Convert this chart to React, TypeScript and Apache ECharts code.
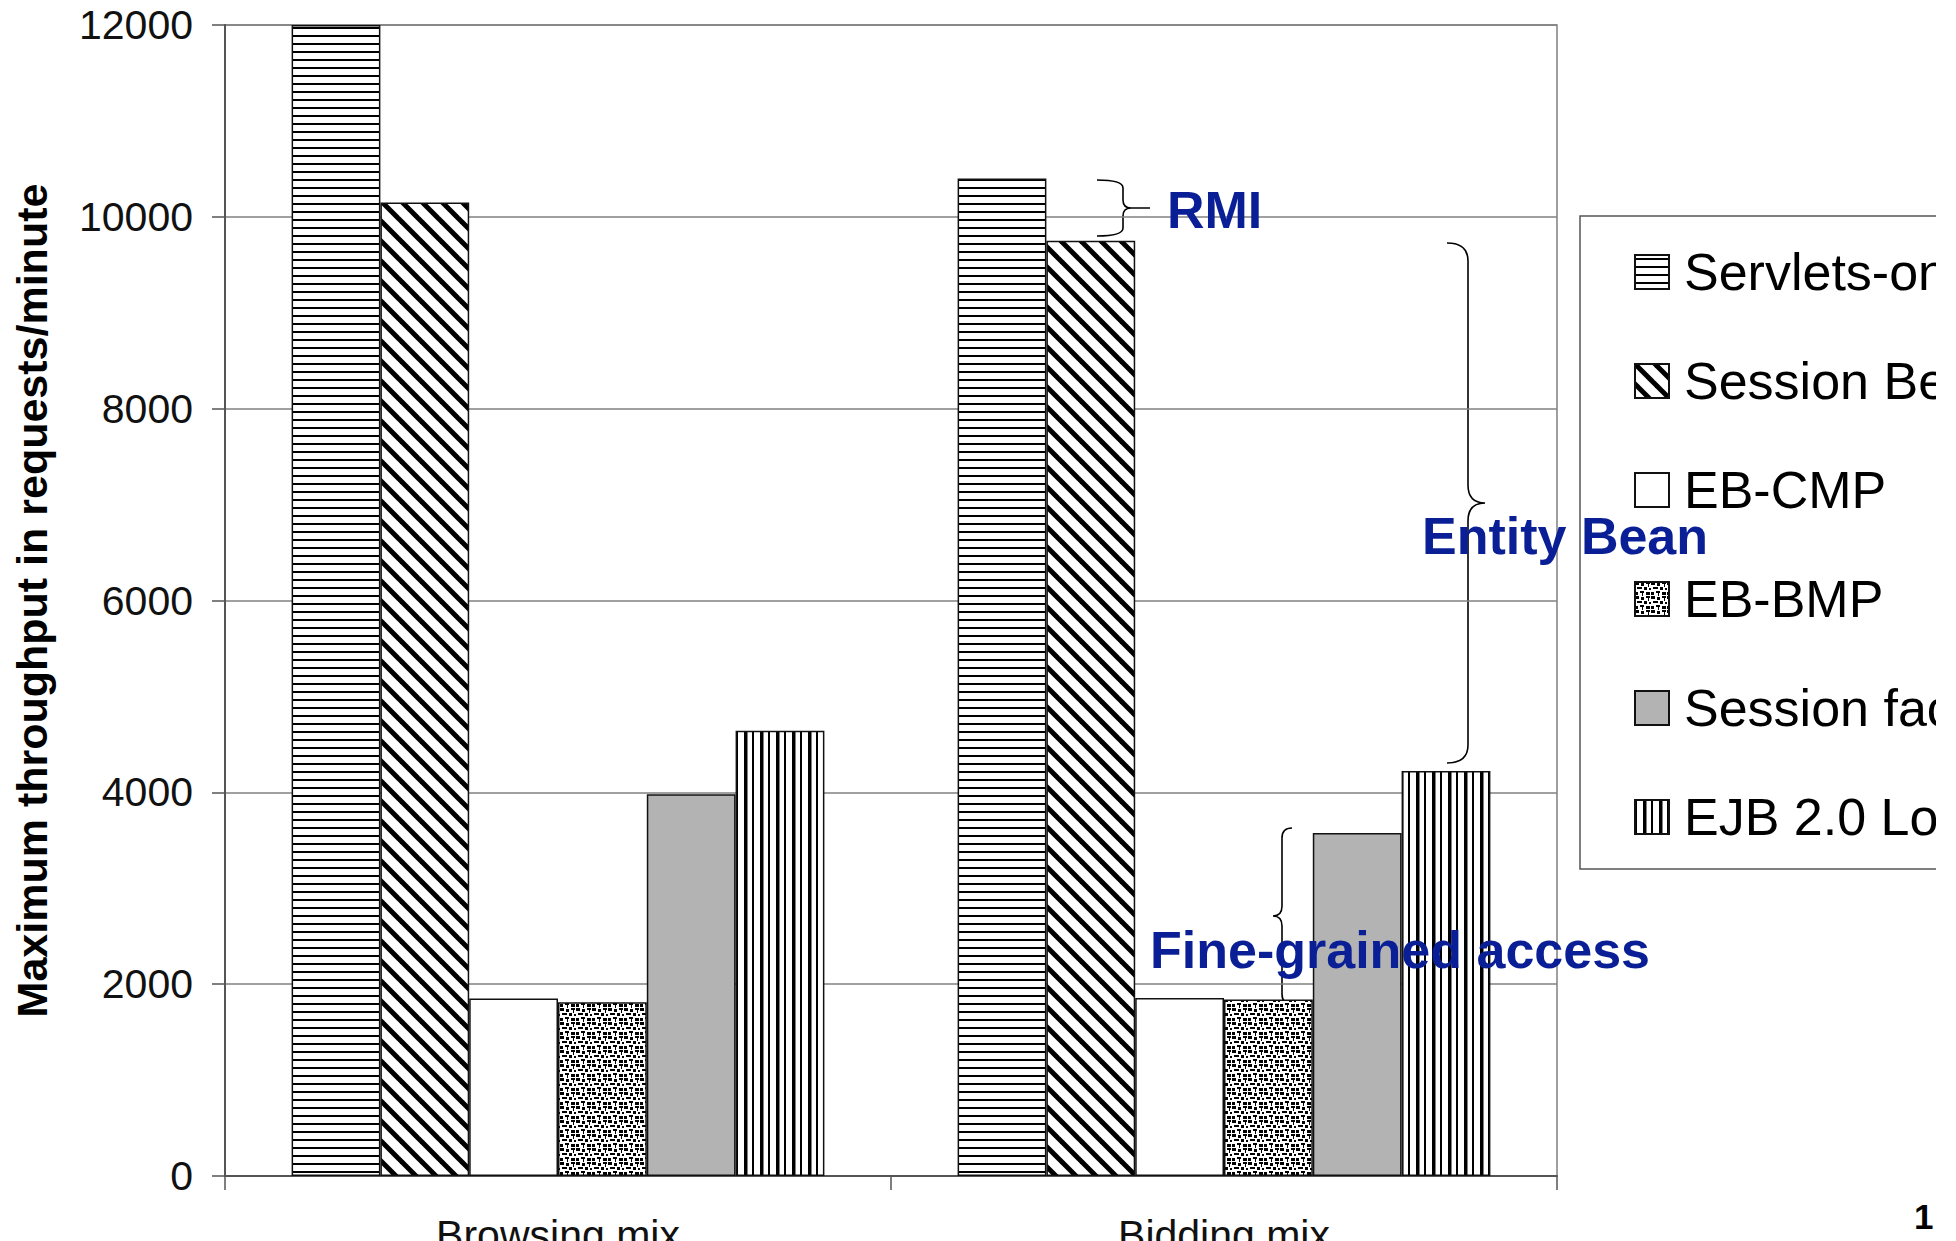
import React, { useEffect, useRef } from 'react';
import * as echarts from 'echarts';

const categories = ['Browsing mix', 'Bidding mix'];
const seriesNames = ['Servlets-only', 'Session Beans', 'EB-CMP', 'EB-BMP', 'Session facade', 'EJB 2.0 Local'];
const servletsOnly = [12000, 10400];
const sessionBeans = [10150, 9750];
const ebCmp = [1850, 1855];
const ebBmp = [1812, 1840];
const sessionFacade = [3980, 3575];
const ejbLocal = [4643, 4223];
const yMin = 0;
const yMax = 12000;
const yStep = 2000;
const yTitle = 'Maximum throughput in requests/minute';
const noteRmi = 'RMI';
const noteEntity = 'Entity Bean';
const noteFine = 'Fine-grained access';
const pageNumber = '1';

const FONT = '"Liberation Sans", Arial, Helvetica, sans-serif';
const BLUE = '#0a1e96';
const W = 1936;
const H = 1241;

function bracePath(w: number, h: number, a: number, r: number) {
  const m = h / 2;
  const t = Math.min(r, w - a);
  return (
    `M0,0 Q${a},0 ${a},${r} L${a},${m - r} Q${a},${m} ${a + t},${m} L${w},${m} ` +
    `M${a + t},${m} Q${a},${m} ${a},${m + r} L${a},${h - r} Q${a},${h} 0,${h}`
  );
}

echarts.graphic.registerShape('braceRmi', echarts.graphic.extendPath(bracePath(53, 56, 26, 8), {}));
echarts.graphic.registerShape('braceEntity', echarts.graphic.extendPath(bracePath(38, 520, 21, 18), {}));
echarts.graphic.registerShape('braceFine', echarts.graphic.extendPath(bracePath(19, 176, 10, 10), {}));

function tile(w: number, h: number, draw: (g: CanvasRenderingContext2D) => void) {
  const c = document.createElement('canvas');
  c.width = w;
  c.height = h;
  const g = c.getContext('2d') as CanvasRenderingContext2D;
  g.fillStyle = '#ffffff';
  g.fillRect(0, 0, w, h);
  g.fillStyle = '#000000';
  g.strokeStyle = '#000000';
  draw(g);
  return { image: c, repeat: 'repeat', imageWidth: w, imageHeight: h } as any;
}

export default function App() {
  const ref = useRef<HTMLDivElement>(null);

  useEffect(() => {
    if (!ref.current) return;
    const chart = echarts.init(ref.current, null, { renderer: 'svg' });

    const horiz = tile(8, 8, (g) => g.fillRect(0, 3, 8, 2));
    const diag = tile(20, 20, (g) => {
      g.lineWidth = 5;
      for (const k of [-20, 0, 20]) {
        g.beginPath();
        g.moveTo(k - 4, -4);
        g.lineTo(k + 24, 24);
        g.stroke();
      }
    });
    const confetti = tile(16, 14, (g) => {
      g.fillRect(0, 0, 4, 3);
      g.fillRect(6, 1, 3, 3);
      g.fillRect(11, 0, 4, 2);
      g.fillRect(13, 2, 1, 3);
      g.fillRect(2, 5, 5, 2);
      g.fillRect(9, 5, 3, 3);
      g.fillRect(14, 6, 2, 2);
      g.fillRect(0, 10, 3, 3);
      g.fillRect(5, 9, 4, 2);
      g.fillRect(7, 11, 1, 3);
      g.fillRect(11, 10, 4, 3);
    });
    const vert = tile(16, 8, (g) => {
      g.fillRect(0, 0, 2, 8);
      g.fillRect(8, 0, 3.5, 8);
    });

    const fills = [horiz, diag, '#ffffff', confetti, '#b3b3b3', vert];
    const values = [servletsOnly, sessionBeans, ebCmp, ebBmp, sessionFacade, ejbLocal];

    chart.setOption({
      animation: false,
      backgroundColor: '#ffffff',
      textStyle: { fontFamily: FONT },
      grid: {
        left: 225,
        right: W - 1557,
        top: 25,
        bottom: H - 1176,
        outerBoundsMode: 'none',
        containLabel: false,
        show: true,
        borderColor: '#808080',
        borderWidth: 1.5,
      },
      legend: {
        orient: 'vertical',
        left: 1580,
        top: 216,
        padding: [30, 40, 26, 54],
        itemWidth: 34,
        itemHeight: 34,
        itemGap: 57,
        icon: 'rect',
        borderColor: '#555555',
        borderWidth: 1.5,
        selectedMode: false,
        textStyle: { fontSize: 52, lineHeight: 52, color: '#000', fontFamily: FONT, padding: [0, 0, 0, 10] },
        data: seriesNames,
      },
      xAxis: {
        type: 'category',
        data: categories,
        axisLine: { show: true, lineStyle: { color: '#555555', width: 2 } },
        axisTick: { show: true, length: 14, lineStyle: { color: '#555555', width: 1.5 } },
        axisLabel: { fontSize: 41, color: '#111', margin: 38, fontFamily: FONT },
        splitLine: { show: false },
      },
      yAxis: {
        type: 'value',
        min: yMin,
        max: yMax,
        interval: yStep,
        name: yTitle,
        nameLocation: 'middle',
        nameGap: 172,
        nameTextStyle: { fontSize: 43, fontWeight: 'bold', color: '#000', fontFamily: FONT },
        axisLine: { show: true, lineStyle: { color: '#555555', width: 2 } },
        axisTick: { show: true, inside: false, length: 13, lineStyle: { color: '#555555', width: 1.5 } },
        axisLabel: {
          fontSize: 41,
          color: '#111',
          margin: 32,
          fontFamily: FONT,
          formatter: (v: number) => String(v),
        },
        splitLine: { show: true, lineStyle: { color: '#808080', width: 1.5 } },
      },
      series: seriesNames.map((name, i) => ({
        name,
        type: 'bar',
        data: values[i],
        barGap: '0%',
        barCategoryGap: '20%',
        itemStyle: { color: fills[i], borderColor: '#111111', borderWidth: 1.5 },
        emphasis: { disabled: true },
      })),
      graphic: [
        { type: 'braceRmi', x: 1097, y: 180, style: { stroke: '#000', fill: 'none', lineWidth: 1.6 } },
        { type: 'braceEntity', x: 1447, y: 243, style: { stroke: '#000', fill: 'none', lineWidth: 1.6 } },
        { type: 'braceFine', x: 1292, y: 828, scaleX: -1, style: { stroke: '#000', fill: 'none', lineWidth: 1.6 } },
        {
          type: 'text', x: 1167, y: 210, z: 100,
          style: { text: noteRmi, fontSize: 52, fontWeight: 'bold', fontFamily: FONT, fill: BLUE, align: 'left', verticalAlign: 'middle' },
        },
        {
          type: 'text', x: 1422, y: 536, z: 100,
          style: { text: noteEntity, fontSize: 52, fontWeight: 'bold', fontFamily: FONT, fill: BLUE, align: 'left', verticalAlign: 'middle' },
        },
        {
          type: 'text', x: 1150, y: 950, z: 100,
          style: { text: noteFine, fontSize: 52, fontWeight: 'bold', fontFamily: FONT, fill: BLUE, align: 'left', verticalAlign: 'middle' },
        },
        {
          type: 'text', x: 1914, y: 1216, z: 100,
          style: { text: pageNumber, fontSize: 35, fontWeight: 'bold', fontFamily: FONT, fill: '#000', align: 'left', verticalAlign: 'middle' },
        },
      ],
    });

    return () => chart.dispose();
  }, []);

  return (
    <div
      ref={ref}
      style={{ position: 'absolute', left: 0, top: 0, width: W, height: H, background: '#fff' }}
    />
  );
}
